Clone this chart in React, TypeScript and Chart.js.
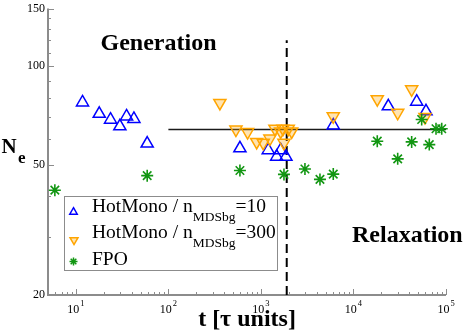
import React, { useEffect, useRef } from 'react';
import { Chart, registerables } from 'chart.js';
Chart.register(...registerables);

// HotMono / n_MDSbg = 10  (blue, up triangles)
const blueT = [11.8, 17.9, 23.7, 29.9, 35.3, 42.4, 59.0, 593, 1200, 1479, 1633, 1862, 6050, 23800, 48200, 60800];
const blueNe = [77.5, 71.5, 68.6, 65.5, 70.2, 69.0, 58.0, 56.1, 55.4, 52.9, 55.4, 52.9, 65.9, 75.4, 77.9, 72.8];

// HotMono / n_MDSbg = 300  (orange, down triangles)
const orangeT = [360, 537, 718, 899, 1059, 1251, 1417, 1633, 1730, 1774, 1974, 2148, 6050, 18080, 30060, 42560, 59300];
const orangeNe = [77.2, 64.0, 62.9, 58.7, 58.3, 60.1, 64.4, 63.2, 64.4, 58.3, 64.4, 63.2, 70.3, 79.3, 72.0, 85.0, 69.9];

// FPO (green stars)
const fpoT = [5.93, 59.0, 593, 1774, 2990, 4345, 6050, 18080, 30060, 42560, 65970, 54600, 78000, 89900];
const fpoNe = [41.8, 46.3, 48.0, 46.7, 48.5, 45.1, 46.8, 59.0, 52.1, 58.7, 57.6, 68.7, 64.4, 64.4];

// reference lines
const plateauT = [100, 100000];
const plateauNe = [64, 64];
const splitT = [1900, 1900];
const splitNe = [20, 120];

// axes
const xMin = 5, xMax = 100000;
const yMin = 20, yMax = 150;
const yLabelTicks = [20, 50, 100, 150];
const xLabelExps = [1, 2, 3, 4, 5];

const legendLabels = [
  { main: 'HotMono / n', sub: 'MDSbg', tail: '=10' },
  { main: 'HotMono / n', sub: 'MDSbg', tail: '=300' },
  { main: 'FPO', sub: '', tail: '' },
];

const SERIF = '"Liberation Serif", "Times New Roman", serif';
const BLUE = '#0000ff';
const ORANGE = '#ffa500';
const ORANGE_FILL = 'rgba(255,165,0,0.3)';
const GREEN = '#129612';

const pts = (xs: number[], ys: number[]) => xs.map((x, i) => ({ x, y: ys[i] }));

function tri(ctx: CanvasRenderingContext2D, x: number, y: number, r: number, down: boolean) {
  const s = down ? -1 : 1;
  ctx.beginPath();
  ctx.moveTo(x, y - s * r);
  ctx.lineTo(x + 0.866 * r, y + s * 0.5 * r);
  ctx.lineTo(x - 0.866 * r, y + s * 0.5 * r);
  ctx.closePath();
}

function star(ctx: CanvasRenderingContext2D, x: number, y: number, r: number) {
  ctx.beginPath();
  for (let k = 0; k < 4; k++) {
    const a = (k * Math.PI) / 4;
    ctx.moveTo(x + Math.cos(a) * r, y + Math.sin(a) * r);
    ctx.lineTo(x - Math.cos(a) * r, y - Math.sin(a) * r);
  }
}

const decor = {
  id: 'decor',
  beforeDatasetsDraw(chart: any) {
    const { ctx, chartArea: a, scales } = chart;
    const xs = scales.x, ys = scales.y;
    ctx.save();
    ctx.strokeStyle = '#8c8c8c';
    ctx.lineWidth = 1;
    ctx.beginPath();
    for (let d = 0; d <= 5; d++) {
      for (let m = 1; m <= 9; m++) {
        const v = m * Math.pow(10, d);
        if (v < xMin || v > xMax) continue;
        const px = Math.round(xs.getPixelForValue(v)) + 0.5;
        const len = m === 1 ? 6 : 3;
        ctx.moveTo(px, a.bottom);
        ctx.lineTo(px, a.bottom - len);
      }
    }
    for (let v = yMin; v <= yMax; v += 10) {
      const py = Math.round(ys.getPixelForValue(v)) + 0.5;
      const len = yLabelTicks.includes(v) ? 6 : 3;
      ctx.moveTo(a.left, py);
      ctx.lineTo(a.left + len, py);
    }
    ctx.stroke();
    ctx.lineWidth = 2;
    ctx.beginPath();
    ctx.moveTo(a.left, a.top);
    ctx.lineTo(a.left, a.bottom);
    ctx.lineTo(a.right, a.bottom);
    ctx.stroke();

    // tick labels
    ctx.fillStyle = '#000';
    ctx.font = `12px ${SERIF}`;
    ctx.textAlign = 'right';
    ctx.textBaseline = 'middle';
    yLabelTicks.forEach((v) => {
      ctx.fillText(String(v), a.left - 3, ys.getPixelForValue(v));
    });
    ctx.textAlign = 'left';
    ctx.textBaseline = 'alphabetic';
    xLabelExps.forEach((e) => {
      const px = xs.getPixelForValue(Math.pow(10, e));
      ctx.font = `12px ${SERIF}`;
      const w1 = ctx.measureText('10').width;
      ctx.font = `8.5px ${SERIF}`;
      const w2 = ctx.measureText(String(e)).width;
      const start = px - (w1 + 1 + w2) / 2;
      ctx.font = `12px ${SERIF}`;
      ctx.fillText('10', start, 312.5);
      ctx.font = `8.5px ${SERIF}`;
      ctx.fillText(String(e), start + w1 + 1, 306);
    });
    ctx.restore();
  },
  afterDatasetsDraw(chart: any) {
    const { ctx } = chart;
    ctx.save();
    ctx.fillStyle = '#000';
    ctx.textBaseline = 'alphabetic';
    ctx.textAlign = 'left';
    ctx.font = `bold 24px ${SERIF}`;
    ctx.fillText('Generation', 100.5, 49.5);
    ctx.fillText('Relaxation', 352, 241.5);
    ctx.textAlign = 'center';
    ctx.fillText('t [τ units]', 247, 326);
    ctx.textAlign = 'left';
    ctx.font = `bold 21px ${SERIF}`;
    ctx.fillText('N', 1.5, 152.5);
    ctx.font = `bold 17px ${SERIF}`;
    ctx.fillText('e', 18, 163);

    // legend
    ctx.strokeStyle = '#8c8c8c';
    ctx.lineWidth = 1;
    ctx.strokeRect(64.5, 196.5, 213, 74);
    const rowsY = [211.7, 238.3, 265];
    const markY = [212, 240, 261.5];
    legendLabels.forEach((l, i) => {
      let x = 92;
      ctx.font = `19.5px ${SERIF}`;
      ctx.fillText(l.main, x, rowsY[i]);
      x += ctx.measureText(l.main).width;
      if (l.sub) {
        ctx.font = `13.5px ${SERIF}`;
        ctx.fillText(l.sub, x, rowsY[i] + 9);
        x += ctx.measureText(l.sub).width;
      }
      if (l.tail) {
        ctx.font = `19.5px ${SERIF}`;
        ctx.fillText(l.tail, x, rowsY[i]);
      }
    });
    ctx.lineWidth = 1.5;
    ctx.strokeStyle = BLUE;
    tri(ctx, 73.5, markY[0], 4.3, false);
    ctx.stroke();
    ctx.strokeStyle = ORANGE;
    ctx.fillStyle = ORANGE_FILL;
    tri(ctx, 74, markY[1], 4.6, true);
    ctx.fill();
    ctx.stroke();
    ctx.strokeStyle = GREEN;
    star(ctx, 73.5, markY[2], 4);
    ctx.stroke();
    ctx.restore();
  },
};

export default function App() {
  const ref = useRef<HTMLCanvasElement | null>(null);
  useEffect(() => {
    if (!ref.current) return;
    const chart = new Chart(ref.current, {
      type: 'scatter',
      data: {
        datasets: [
          {
            label: 'FPO',
            data: pts(fpoT, fpoNe),
            pointStyle: 'star',
            pointRadius: 6,
            borderColor: GREEN,
            backgroundColor: GREEN,
            borderWidth: 1.6,
            order: 1,
          },
          {
            label: 'HotMono / nMDSbg=300',
            data: pts(orangeT, orangeNe),
            pointStyle: 'triangle',
            rotation: 180,
            pointRadius: 7,
            borderColor: ORANGE,
            backgroundColor: ORANGE_FILL,
            borderWidth: 1.5,
            order: 2,
          },
          {
            label: 'HotMono / nMDSbg=10',
            data: pts(blueT, blueNe),
            pointStyle: 'triangle',
            pointRadius: 7,
            borderColor: BLUE,
            backgroundColor: 'rgba(0,0,0,0)',
            borderWidth: 1.5,
            order: 3,
          },
          {
            type: 'line',
            label: 'plateau',
            data: pts(plateauT, plateauNe),
            borderColor: '#1a1a1a',
            borderWidth: 1.5,
            pointRadius: 0,
            showLine: true,
            order: 4,
          },
          {
            type: 'line',
            label: 'split',
            data: pts(splitT, splitNe),
            borderColor: '#000',
            borderWidth: 2,
            borderDash: [9, 5],
            pointRadius: 0,
            showLine: true,
            order: 5,
          },
        ] as any,
      },
      options: {
        responsive: false,
        animation: false,
        events: [],
        clip: false as any,
        layout: { padding: { left: 48, right: 17, top: 5, bottom: 37 } },
        plugins: { legend: { display: false }, tooltip: { enabled: false } },
        scales: {
          x: { type: 'logarithmic', min: xMin, max: xMax, display: false },
          y: { type: 'logarithmic', min: yMin, max: yMax, display: false },
        },
      },
      plugins: [decor],
    });
    return () => chart.destroy();
  }, []);
  return (
    <div style={{ position: 'absolute', left: 0, top: 0, width: 463, height: 332, background: '#fff' }}>
      <canvas ref={ref} width={463} height={332} style={{ width: 463, height: 332, display: 'block' }} />
    </div>
  );
}
